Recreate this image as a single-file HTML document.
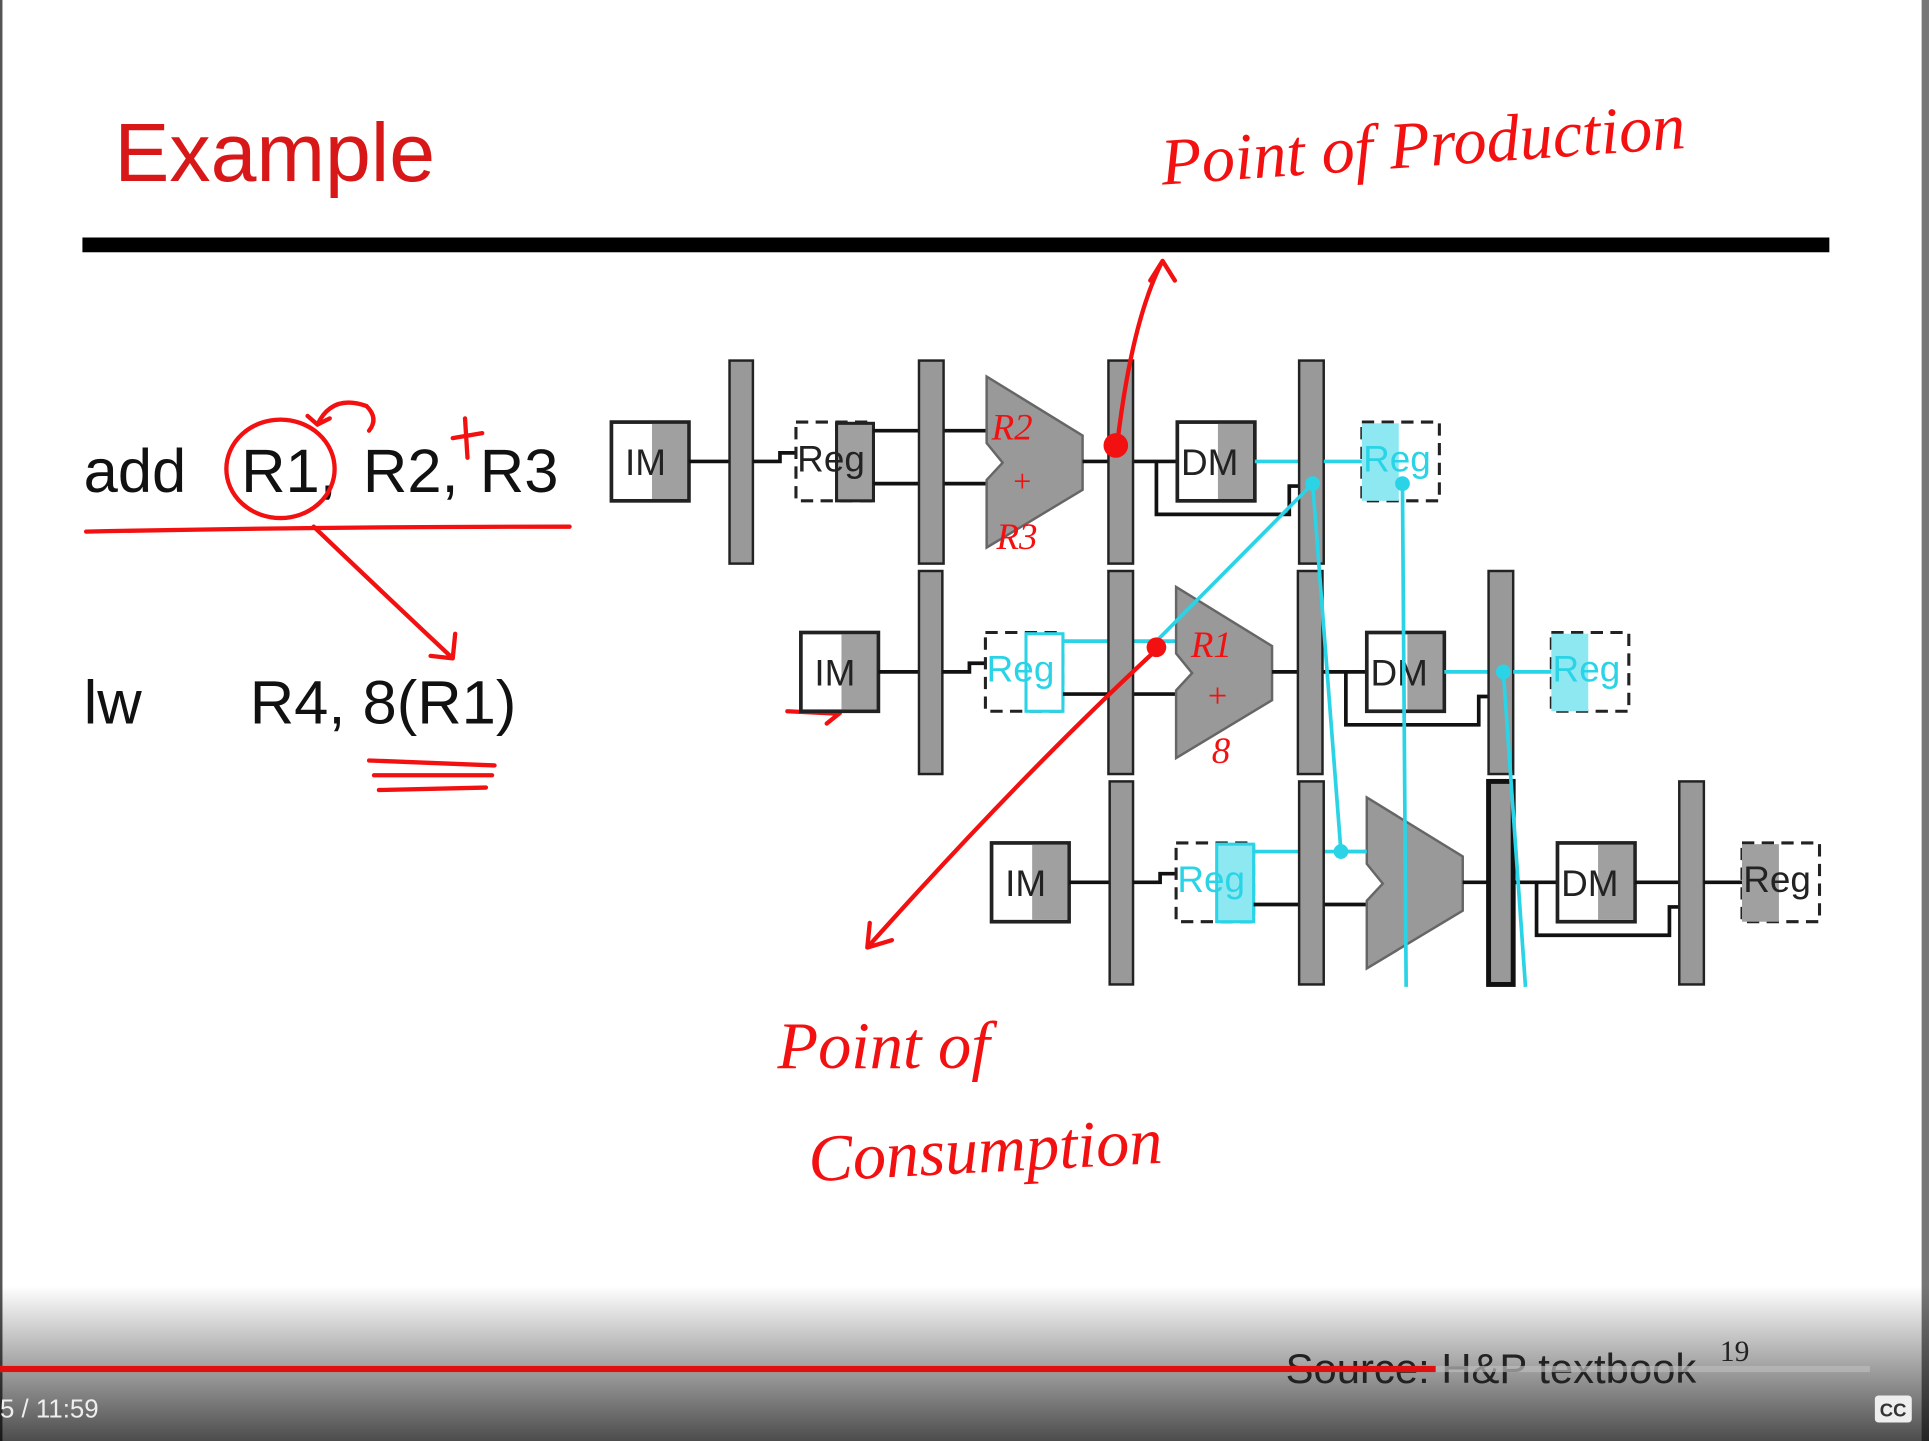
<!DOCTYPE html>
<html><head><meta charset="utf-8"><style>
html,body{margin:0;padding:0;background:#fff;}
svg{display:block;}
</style></head><body>
<svg width="1929" height="1441" viewBox="0 0 1568 1171" preserveAspectRatio="none" xmlns="http://www.w3.org/2000/svg" font-family="Liberation Sans, sans-serif">
<defs>
<linearGradient id="bg" x1="0" y1="0" x2="0" y2="1">
<stop offset="0" stop-color="#000" stop-opacity="0"/>
<stop offset="1" stop-color="#000" stop-opacity="0.7"/>
</linearGradient>
<g id="row">
  <rect x="497" y="343" width="63" height="64" fill="#fff" stroke="#222" stroke-width="3"/>
  <rect x="530" y="344.5" width="28.5" height="61" fill="#a0a0a0"/>
  <text x="508" y="386" font-size="30" fill="#222">IM</text>
  <line x1="560" y1="375" x2="593" y2="375" stroke="#111" stroke-width="3"/>
  <rect x="593" y="293" width="19" height="165" fill="#999" stroke="#222" stroke-width="2"/>
  <polyline points="612,375 634,375 634,368 647,368" fill="none" stroke="#111" stroke-width="3"/>
</g>
</defs>
<rect width="1568" height="1171" fill="#fff"/>
<rect x="0" y="0" width="2" height="1171" fill="#555"/>
<rect x="1562" y="0" width="6" height="1171" fill="#777"/>

<text x="93" y="147" font-size="67" fill="#d81818">Example</text>
<rect x="67" y="193" width="1420" height="12" fill="#000"/>

<text x="68" y="400" font-size="50" fill="#111">add</text>
<text x="196" y="400" font-size="50" fill="#111">R1,</text>
<text x="295" y="400" font-size="50" fill="#111">R2,</text>
<text x="390" y="400" font-size="50" fill="#111">R3</text>
<text x="68" y="588" font-size="50" fill="#111">lw</text>
<text x="203" y="588" font-size="50" fill="#111">R4, 8(R1)</text>

<g fill="none" stroke="#f21010" stroke-width="3.5" stroke-linecap="round">
<path d="M70,432 Q260,428 463,428"/>
<ellipse cx="228" cy="381" rx="44" ry="40"/>
<path d="M258,345 Q270,320 298,330 Q308,340 300,350"/>
<path d="M258,345 L250,338 M258,345 L268,340"/>
<path d="M378,340 L380,372 M368,356 L392,352"/>
<path d="M255,428 Q320,490 368,535 M368,535 L350,533 M368,535 L370,515"/>
<path d="M300,618 L402,622 M304,630 L400,630 M308,642 L395,640"/>
<path d="M640,578 L682,580 M672,570 L682,580 L672,588"/>
</g>

<use href="#row"/>
<g>
<rect x="647" y="343" width="63" height="64" fill="none" stroke="#222" stroke-width="2.5" stroke-dasharray="10,6"/>
<rect x="680" y="344" width="30" height="63" fill="#a0a0a0" stroke="#222" stroke-width="2.5"/>
<text x="648" y="383" font-size="30" fill="#222">Reg</text>
<line x1="710" y1="350" x2="802" y2="350" stroke="#111" stroke-width="3"/>
<line x1="710" y1="393" x2="802" y2="393" stroke="#111" stroke-width="3"/>
<rect x="747" y="293" width="20" height="165" fill="#999" stroke="#222" stroke-width="2"/>
<polygon points="802,306 880,354 880,398 802,445 802,390 815,376 802,360" fill="#999" stroke="#666" stroke-width="2"/>
<line x1="880" y1="375" x2="957" y2="375" stroke="#111" stroke-width="3"/>
<rect x="901" y="293" width="20" height="165" fill="#999" stroke="#222" stroke-width="2"/>
<polyline points="940,375 940,418 1048,418 1048,395 1056,395" fill="none" stroke="#111" stroke-width="3"/>
<rect x="957" y="343" width="63" height="64" fill="#fff" stroke="#222" stroke-width="3"/>
<rect x="990" y="344.5" width="28.5" height="61" fill="#a0a0a0"/>
<text x="960" y="386" font-size="30" fill="#222">DM</text>
<line x1="1020" y1="375" x2="1056" y2="375" stroke="#2ad4e6" stroke-width="3"/>
<rect x="1056" y="293" width="20" height="165" fill="#999" stroke="#222" stroke-width="2"/>
<line x1="1076" y1="375" x2="1107" y2="375" stroke="#2ad4e6" stroke-width="3"/>
<rect x="1107" y="343" width="63" height="64" fill="none" stroke="#222" stroke-width="2.5" stroke-dasharray="10,6"/>
<rect x="1107" y="344" width="30" height="63" fill="#8ee8f2"/>
<text x="1108" y="383" font-size="30" fill="#2ad4e6">Reg</text>
</g>

<g transform="translate(154,171)">
<use href="#row"/>
<rect x="647" y="343" width="63" height="64" fill="none" stroke="#222" stroke-width="2.5" stroke-dasharray="10,6"/>
<rect x="680" y="344" width="30" height="63" fill="#fff" stroke="#2ad4e6" stroke-width="2.5"/>
<text x="648" y="383" font-size="30" fill="#2ad4e6">Reg</text>
<line x1="710" y1="350" x2="802" y2="350" stroke="#2ad4e6" stroke-width="3"/>
<line x1="710" y1="393" x2="802" y2="393" stroke="#111" stroke-width="3"/>
<rect x="747" y="293" width="20" height="165" fill="#999" stroke="#222" stroke-width="2"/>
<polygon points="802,306 880,354 880,398 802,445 802,390 815,376 802,360" fill="#999" stroke="#666" stroke-width="2"/>
<line x1="880" y1="375" x2="957" y2="375" stroke="#111" stroke-width="3"/>
<rect x="901" y="293" width="20" height="165" fill="#999" stroke="#222" stroke-width="2"/>
<polyline points="940,375 940,418 1048,418 1048,395 1056,395" fill="none" stroke="#111" stroke-width="3"/>
<rect x="957" y="343" width="63" height="64" fill="#fff" stroke="#222" stroke-width="3"/>
<rect x="990" y="344.5" width="28.5" height="61" fill="#a0a0a0"/>
<text x="960" y="386" font-size="30" fill="#222">DM</text>
<line x1="1020" y1="375" x2="1056" y2="375" stroke="#2ad4e6" stroke-width="3"/>
<rect x="1056" y="293" width="20" height="165" fill="#999" stroke="#222" stroke-width="2"/>
<line x1="1076" y1="375" x2="1107" y2="375" stroke="#2ad4e6" stroke-width="3"/>
<rect x="1107" y="343" width="63" height="64" fill="none" stroke="#222" stroke-width="2.5" stroke-dasharray="10,6"/>
<rect x="1107" y="344" width="30" height="63" fill="#8ee8f2"/>
<text x="1108" y="383" font-size="30" fill="#2ad4e6">Reg</text>
</g>

<g transform="translate(309,342)">
<use href="#row"/>
<rect x="647" y="343" width="63" height="64" fill="none" stroke="#222" stroke-width="2.5" stroke-dasharray="10,6"/>
<rect x="680" y="344" width="30" height="63" fill="#8ee8f2" stroke="#2ad4e6" stroke-width="2.5"/>
<text x="648" y="383" font-size="30" fill="#2ad4e6">Reg</text>
<line x1="710" y1="350" x2="747" y2="350" stroke="#2ad4e6" stroke-width="3"/>
<line x1="767" y1="350" x2="802" y2="350" stroke="#2ad4e6" stroke-width="3"/>
<line x1="710" y1="393" x2="802" y2="393" stroke="#111" stroke-width="3"/>
<rect x="747" y="293" width="20" height="165" fill="#999" stroke="#222" stroke-width="2"/>
<polygon points="802,306 880,354 880,398 802,445 802,390 815,376 802,360" fill="#999" stroke="#666" stroke-width="2"/>
<line x1="880" y1="375" x2="957" y2="375" stroke="#111" stroke-width="3"/>
<rect x="901" y="293" width="20" height="165" fill="#999" stroke="#111" stroke-width="4"/>
<polyline points="940,375 940,418 1048,418 1048,395 1056,395" fill="none" stroke="#111" stroke-width="3"/>
<rect x="957" y="343" width="63" height="64" fill="#fff" stroke="#222" stroke-width="3"/>
<rect x="990" y="344.5" width="28.5" height="61" fill="#a0a0a0"/>
<text x="960" y="386" font-size="30" fill="#222">DM</text>
<line x1="1020" y1="375" x2="1056" y2="375" stroke="#111" stroke-width="3"/>
<rect x="1056" y="293" width="20" height="165" fill="#999" stroke="#222" stroke-width="2"/>
<line x1="1076" y1="375" x2="1107" y2="375" stroke="#111" stroke-width="3"/>
<rect x="1107" y="343" width="63" height="64" fill="none" stroke="#222" stroke-width="2.5" stroke-dasharray="10,6"/>
<rect x="1107" y="344" width="30" height="63" fill="#a0a0a0"/>
<text x="1108" y="383" font-size="30" fill="#222">Reg</text>
</g>

<g stroke="#2ad4e6" stroke-width="3" fill="none">
<line x1="1067" y1="393" x2="940" y2="521"/>
<line x1="1067" y1="393" x2="1090" y2="692"/>
<line x1="1140" y1="393" x2="1143" y2="802"/>
<line x1="1222" y1="546" x2="1240" y2="802"/>
<line x1="1090" y1="692" x2="1111" y2="692"/>
</g>
<g fill="#2ad4e6">
<circle cx="1067" cy="393" r="6"/><circle cx="1140" cy="393" r="6"/>
<circle cx="1222" cy="546" r="6"/><circle cx="1090" cy="692" r="6"/>
</g>

<g fill="none" stroke="#f21010" stroke-width="3.5" stroke-linecap="round">
<path d="M908,362 Q920,260 945,212 M945,212 L935,228 M945,212 L955,228"/>
<path d="M940,528 Q830,630 705,770 M705,770 L707,750 M705,770 L725,764"/>
</g>
<circle cx="907" cy="362" r="10" fill="#f21010"/>
<circle cx="940" cy="526" r="8" fill="#f21010"/>
<g fill="#f21010" font-style="italic" font-family="Liberation Serif, serif">
<text x="806" y="357" font-size="30">R2</text>
<text x="822" y="400" font-size="26">+</text>
<text x="810" y="446" font-size="30">R3</text>
<text x="968" y="534" font-size="30">R1</text>
<text x="980" y="575" font-size="28">+</text>
<text x="985" y="620" font-size="30">8</text>
<text x="945" y="150" font-size="54" transform="rotate(-4 945 150)">Point of Production</text>
<text x="632" y="868" font-size="54">Point of</text>
<text x="658" y="960" font-size="54" transform="rotate(-3 658 960)">Consumption</text>
</g>

<rect x="0" y="1045" width="1568" height="126" fill="url(#bg)"/>
<text x="1045" y="1124" font-size="34" fill="#222">Source: H&amp;P textbook</text>
<text x="1398" y="1106" font-size="24" fill="#222" font-family="Liberation Serif, serif">19</text>
<rect x="0" y="1110" width="1520" height="5" fill="#bbb" opacity="0.7"/>
<rect x="0" y="1110" width="1167" height="5" fill="#e01010"/>
<text x="0" y="1152" font-size="21" fill="#eee">5 / 11:59</text>
<rect x="1524" y="1134" width="30" height="22" rx="3" fill="#eee"/>
<text x="1528" y="1151" font-size="15" font-weight="bold" fill="#333">CC</text>
</svg>
</body></html>
